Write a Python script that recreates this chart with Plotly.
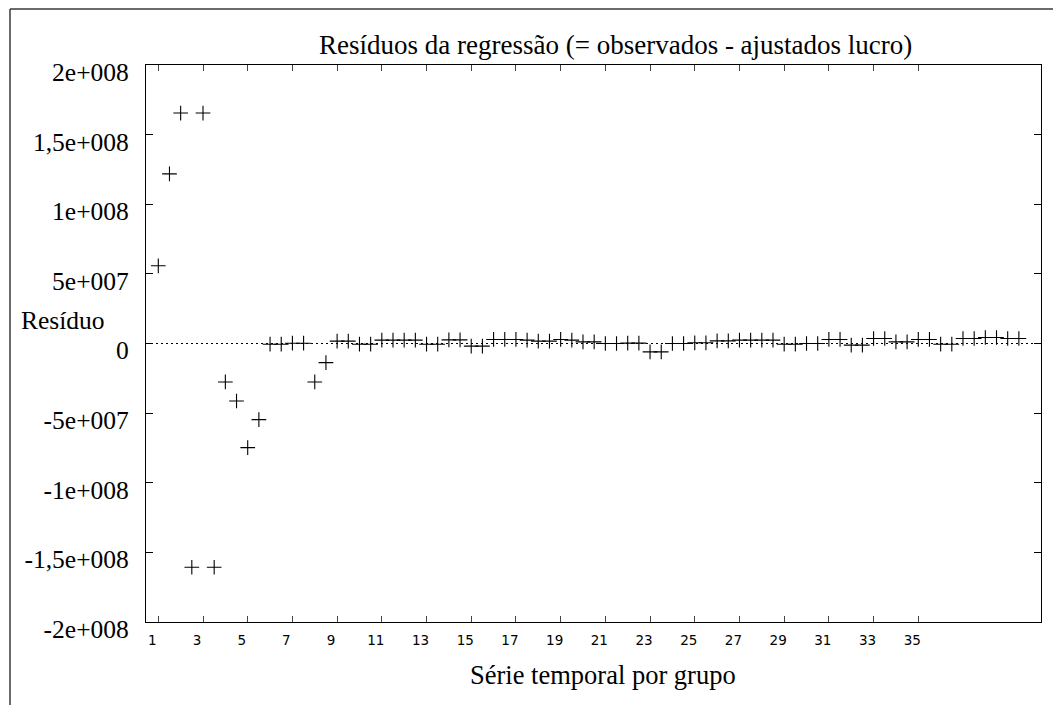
import plotly.graph_objects as go

# ---------------- data ----------------
obs_x = [1, 1.5, 2, 2.5, 3, 3.5, 4, 4.5, 5, 5.5, 6, 6.5, 7, 7.5, 8, 8.5, 9, 9.5, 10, 10.5,
         11, 11.5, 12, 12.5, 13, 13.5, 14, 14.5, 15, 15.5, 16, 16.5, 17, 17.5, 18, 18.5,
         19, 19.5, 20, 20.5, 21, 21.5, 22, 22.5, 23, 23.5, 24, 24.5, 25, 25.5, 26, 26.5,
         27, 27.5, 28, 28.5, 29, 29.5, 30, 30.5, 31, 31.5, 32, 32.5, 33, 33.5, 34, 34.5,
         35, 35.5, 36, 36.5, 37, 37.5, 38, 38.5, 39, 39.5]

residuos = [5.58e7, 1.218e8, 1.655e8, -1.607e8, 1.655e8, -1.607e8, -2.76e7, -4.13e7,
            -7.48e7, -5.47e7, -0.5e6, -0.5e6, 0.2e6, 0.2e6, -2.76e7, -1.37e7, 1.7e6, 1.7e6,
            -0.5e6, -0.5e6, 2.4e6, 2.4e6, 2.4e6, 2.4e6, -0.5e6, -0.5e6, 2.6e6, 2.6e6,
            -1.9e6, -1.9e6, 2.9e6, 2.9e6, 2.9e6, 2.4e6, 1.7e6, 1.7e6, 2.9e6, 2.4e6,
            1.2e6, 1.2e6, 0.0, 0.0, 0.3e6, 0.3e6, -6.0e6, -6.0e6, 0.0, 0.0,
            0.5e6, 0.5e6, 1.9e6, 1.9e6, 2.4e6, 2.4e6, 2.4e6, 2.4e6, -0.5e6, -0.5e6,
            0.0, 0.0, 2.9e6, 2.9e6, -1.2e6, -1.2e6, 3.6e6, 3.6e6, 1.2e6, 1.2e6,
            2.9e6, 2.9e6, -0.5e6, -0.5e6, 3.6e6, 3.6e6, 4.3e6, 4.3e6, 3.6e6, 3.6e6]

x_tick_vals = [1, 3, 5, 7, 9, 11, 13, 15, 17, 19, 21, 23, 25, 27, 29, 31, 33, 35]
x_tick_text = [str(v) for v in x_tick_vals]

y_tick_vals = [-2e8, -1.5e8, -1e8, -5e7, 0, 5e7, 1e8, 1.5e8, 2e8]
y_tick_text = ["-2e+008", "-1,5e+008", "-1e+008", "-5e+007", "0",
               "5e+007", "1e+008", "1,5e+008", "2e+008"]

title_text = "Resíduos da regressão (= observados - ajustados lucro)"
x_title = "Série temporal por grupo"
y_title = "Resíduo"

# ---------------- layout geometry (page pixels, body margin 8px) ----------------
OFF = 8
W, H = 1061 - 2 * OFF, 713 - 2 * OFF
PL, PR, PT, PB = 146 - OFF, 1041 - OFF, 65 - OFF, 622 - OFF


def px(xp):
    return (xp - OFF - PL) / (PR - PL)


def py(yp):
    return (PB - (yp - OFF)) / (PB - PT)


SERIF = "Liberation Serif, Times New Roman, serif"
SANS = "DejaVu Sans, Verdana, sans-serif"

fig = go.Figure()
fig.add_trace(go.Scatter(
    x=obs_x, y=residuos, mode="markers",
    marker=dict(symbol="cross-thin", size=10.5, color="black",
                line=dict(color="black", width=1.1)),
    showlegend=False, hoverinfo="x+y",
))

fig.add_shape(type="line", xref="paper", yref="y", x0=0, x1=1, y0=0, y1=0,
              line=dict(color="black", width=1, dash="2px,3px"), layer="below")

# outer frame (top and left edges of the window frame)
frame = dict(color="#3a3a3a", width=1.5)
fig.add_shape(type="line", xref="paper", yref="paper",
              x0=px(10), x1=px(1070), y0=py(9), y1=py(9), line=frame)
fig.add_shape(type="line", xref="paper", yref="paper",
              x0=px(10), x1=px(10), y0=py(9), y1=py(720), line=frame)

fig.add_annotation(text=title_text, xref="paper", yref="paper",
                   x=px(615), y=py(45), xanchor="center", yanchor="middle",
                   showarrow=False, font=dict(family=SERIF, size=27, color="black"))
fig.add_annotation(text=x_title, xref="paper", yref="paper",
                   x=px(603), y=py(675), xanchor="center", yanchor="middle",
                   showarrow=False, font=dict(family=SERIF, size=26.5, color="black"))
fig.add_annotation(text=y_title, xref="paper", yref="paper",
                   x=px(19), y=py(320), xanchor="left", yanchor="middle",
                   showarrow=False, font=dict(family=SERIF, size=25.5, color="black"))

fig.update_layout(
    width=W, height=H, autosize=False,
    margin=dict(l=PL, r=W - PR, t=PT, b=H - PB, pad=0),
    paper_bgcolor="white", plot_bgcolor="white",
    xaxis=dict(
        range=[0.45, 40.49], tickmode="array", tickvals=x_tick_vals, ticktext=x_tick_text,
        ticks="inside", ticklen=6, tickwidth=1, tickcolor="#444",
        showline=True, linecolor="black", linewidth=1.2, mirror="ticks",
        showgrid=False, zeroline=False,
        tickfont=dict(family=SANS, size=13.5, color="black"),
        ticklabelshift=-6, ticklabelstandoff=6,
    ),
    yaxis=dict(
        range=[-2e8, 2e8], tickmode="array", tickvals=y_tick_vals, ticktext=y_tick_text,
        ticks="inside", ticklen=7, tickwidth=1, tickcolor="black",
        showline=True, linecolor="black", linewidth=1.2, mirror="ticks",
        showgrid=False, zeroline=False,
        tickfont=dict(family=SERIF, size=25.5, color="black"),
        ticklabelshift=7, ticklabelstandoff=11,
    ),
)

fig.write_html("out.html")
